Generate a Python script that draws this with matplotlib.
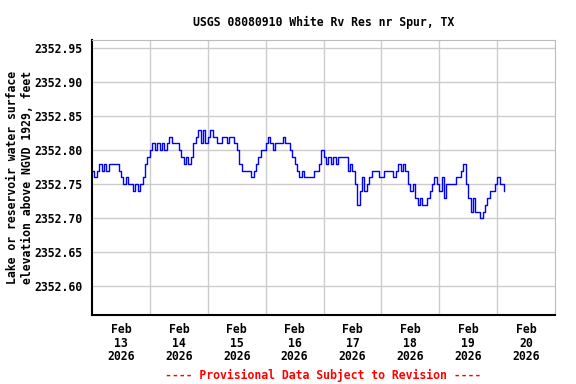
import numpy as np
import pandas as pd
import matplotlib
matplotlib.use('Agg')
import matplotlib.pyplot as plt

# hourly gage readings, hundredths of a foot above 2352.00 ft
base = 2352.0
feb13 = [77, 76, 77, 78, 77, 78, 77, 78, 78, 78, 78, 77, 76, 75, 76, 75, 75, 74, 75, 74, 75, 76, 78, 79]
feb14 = [80, 81, 80, 81, 80, 81, 80, 81, 82, 81, 81, 81, 80, 79, 78, 79, 78, 79, 81, 82, 83, 81, 83, 81]
feb15 = [82, 83, 82, 82, 81, 81, 82, 82, 81, 82, 82, 81, 80, 78, 77, 77, 77, 77, 76, 77, 78, 79, 80, 80]
feb16 = [81, 82, 81, 80, 81, 81, 81, 82, 81, 81, 80, 79, 78, 77, 76, 77, 76, 76, 76, 76, 77, 77, 78, 80]
feb17 = [79, 78, 79, 78, 79, 78, 79, 79, 79, 79, 77, 78, 77, 75, 72, 74, 76, 74, 75, 76, 77, 77, 77, 76]
feb18 = [76, 77, 77, 77, 77, 76, 77, 78, 77, 78, 77, 75, 74, 75, 73, 72, 73, 72, 72, 73, 74, 75, 76, 75]
feb19 = [74, 76, 73, 75, 75, 75, 75, 76, 76, 77, 78, 75, 73, 71, 73, 71, 71, 70, 71, 72, 73, 74, 74, 75]
feb20 = [76, 75, 75, 74]

hundredths = feb13 + feb14 + feb15 + feb16 + feb17 + feb18 + feb19 + feb20
elev = base + np.array(hundredths) / 100.0
times = pd.date_range('2026-02-13 00:00', periods=len(elev), freq='h')

day_labels = ['Feb\n13\n2026', 'Feb\n14\n2026', 'Feb\n15\n2026', 'Feb\n16\n2026',
              'Feb\n17\n2026', 'Feb\n18\n2026', 'Feb\n19\n2026', 'Feb\n20\n2026']
y_ticks = [2352.60, 2352.65, 2352.70, 2352.75, 2352.80, 2352.85, 2352.90, 2352.95]

mono = 'DejaVu Sans Mono'
fs = 8.3

fig = plt.figure(figsize=(5.76, 3.84), dpi=100)
ax = fig.add_axes([92 / 576, 1 - 315 / 384, 463 / 576, 275 / 384])

ax.plot(times, elev, color='#0000ff', linewidth=1.0, drawstyle='steps-post')

start = pd.Timestamp('2026-02-13')
ax.set_xlim(start, start + pd.Timedelta(days=8))
ax.set_ylim(2352.558, 2352.962)

midnights = [start + pd.Timedelta(days=d) for d in range(1, 8)]
noons = [start + pd.Timedelta(days=d, hours=12) for d in range(8)]
ax.set_xticks(midnights)
ax.set_xticklabels([])
ax.set_xticks(noons, minor=True)
ax.set_xticklabels(day_labels, minor=True, fontfamily=mono, fontweight='bold',
                   fontsize=fs, linespacing=1.05)
ax.set_yticks(y_ticks)
ax.set_yticklabels(['%.2f' % v for v in y_ticks], fontfamily=mono,
                   fontweight='bold', fontsize=fs)
ax.tick_params(axis='both', which='both', length=0)
ax.tick_params(axis='x', which='minor', pad=6)
ax.tick_params(axis='y', pad=7)

ax.grid(True, which='major', color='#cccccc', linewidth=1.0)
ax.set_axisbelow(True)
for side in ['top', 'right']:
    ax.spines[side].set_color('#bbbbbb')
for side in ['left', 'bottom']:
    ax.spines[side].set_color('black')
    ax.spines[side].set_linewidth(1.5)

ax.set_ylabel('Lake or reservoir water surface\nelevation above NGVD 1929, feet',
              fontfamily=mono, fontweight='bold', fontsize=fs, linespacing=1.15)
ax.yaxis.set_label_coords(-0.126, 0.5)

ax.set_title('USGS 08080910 White Rv Res nr Spur, TX', fontfamily=mono,
             fontweight='bold', fontsize=fs, pad=10)

fig.text(323 / 576, 1 - 375 / 384, '---- Provisional Data Subject to Revision ----',
         color='red', fontfamily=mono, fontweight='bold', fontsize=fs,
         ha='center', va='center')

fig.savefig('out.png', dpi=100)
